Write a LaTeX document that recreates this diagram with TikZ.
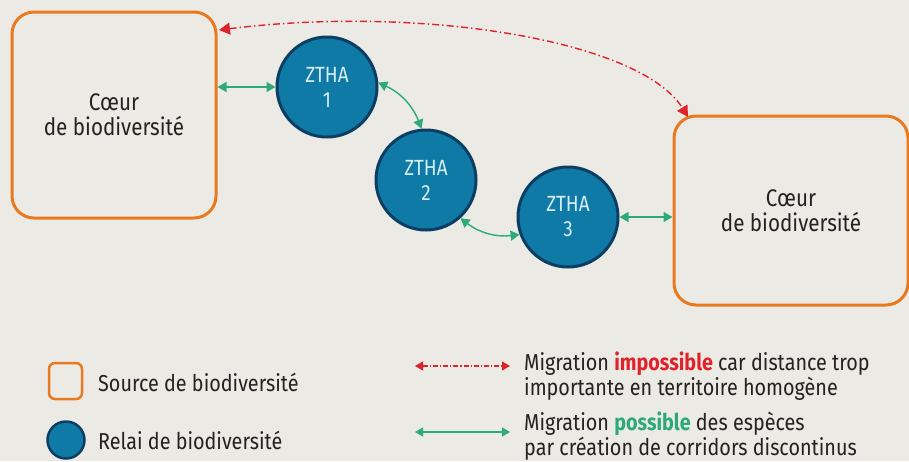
\documentclass[tikz,border=0pt]{standalone}
\usepackage{fontspec}
\setmainfont{Fira Sans}[FakeStretch=0.86]
\usetikzlibrary{arrows.meta}
\definecolor{bg}{HTML}{ECEAE5}
\definecolor{orng}{HTML}{E8791F}
\definecolor{cfill}{HTML}{0F7AA6}
\definecolor{cdraw}{HTML}{0B3E62}
\definecolor{ctext}{HTML}{D5EEF4}
\definecolor{grn}{HTML}{2DAA78}
\definecolor{rd}{HTML}{E0232A}
\definecolor{txt}{HTML}{222222}
\tikzset{
  core/.style={draw=orng, line width=3pt, rounded corners=22pt, rectangle, text=txt,
    align=center, font=\fontsize{24}{25}\selectfont},
  relay/.style={circle, fill=cfill, draw=cdraw, line width=3pt, minimum size=100pt, inner sep=0pt,
    text=ctext, align=center, font=\fontsize{22}{25}\selectfont},
  okarrow/.style={draw=grn, line width=1.4pt, {Triangle[width=10pt,length=9pt]}-{Triangle[width=10pt,length=9pt]}},
  noarrow/.style={draw=rd, line width=1.4pt, dash pattern=on 7pt off 3pt on 1.5pt off 3pt,
    {Triangle[width=12pt,length=11pt]}-{Triangle[width=12pt,length=11pt]}},
  legtext/.style={anchor=base west, text=txt, align=left, inner sep=0pt, font=\fontsize{23}{22}\selectfont},
}
\begin{document}
\begin{tikzpicture}[x=1pt,y=-1pt]
\useasboundingbox (0,0) rectangle (909,461);
\fill[bg] (0,0) rectangle (909,461);

\node[core, minimum width=204pt, minimum height=206pt] (L) at (114,115) {Cœur\\de biodiversité};
\node[core, minimum width=234pt, minimum height=189pt] (R) at (791,210.5) {Cœur\\de biodiversité};

\node[relay] (z1) at (327,87) {ZTHA\\1};
\node[relay] (z2) at (426,180) {ZTHA\\2};
\node[relay] (z3) at (568,217) {ZTHA\\3};

\draw[okarrow] (L.east |- z1) -- (z1.west);
\draw[okarrow] (z1.5) to[bend left=22] (z2.95);
\draw[okarrow] (z2.-48) to[bend right=22] (z3.200);
\draw[okarrow] (z3.east) -- (R.west |- z3);

\coordinate (rs) at (219,30);
\coordinate (re) at (688,117);
\draw[noarrow] (rs) .. controls (420,5) and (640,40) .. (re);

% legend
\node[draw=orng, line width=2.5pt, rounded corners=6pt, minimum width=33pt, minimum height=36pt, inner sep=0pt] (ls) at (65.5,381) {};
\node[legtext] (lst) at (98,391) {Source de biodiversité};
\node[circle, fill=cfill, draw=cdraw, line width=2.5pt, minimum size=37pt, inner sep=0pt] (lc) at (66,440) {};
\node[legtext] (lct) at (98,449) {Relai de biodiversité};

\coordinate (ra) at (415,366);
\coordinate (rb) at (510,366);
\draw[draw=rd, line width=1.2pt, dash pattern=on 5pt off 2pt on 1.2pt off 2pt,
  {Triangle[width=9pt,length=8pt]}-{Triangle[width=9pt,length=8pt]}] (ra) -- (rb);
\node[legtext] (rt) at (524,395) {Migration \textcolor{rd}{\textbf{impossible}} car distance trop\\importante en territoire homogène};

\coordinate (ga) at (415,432);
\coordinate (gb) at (510,432);
\draw[draw=grn, line width=1.4pt, {Triangle[width=9pt,length=8pt]}-{Triangle[width=9pt,length=8pt]}] (ga) -- (gb);
\node[legtext] (gt) at (524,455) {Migration \textcolor{grn}{\textbf{possible}} des espèces\\par création de corridors discontinus};
\end{tikzpicture}
\end{document}
